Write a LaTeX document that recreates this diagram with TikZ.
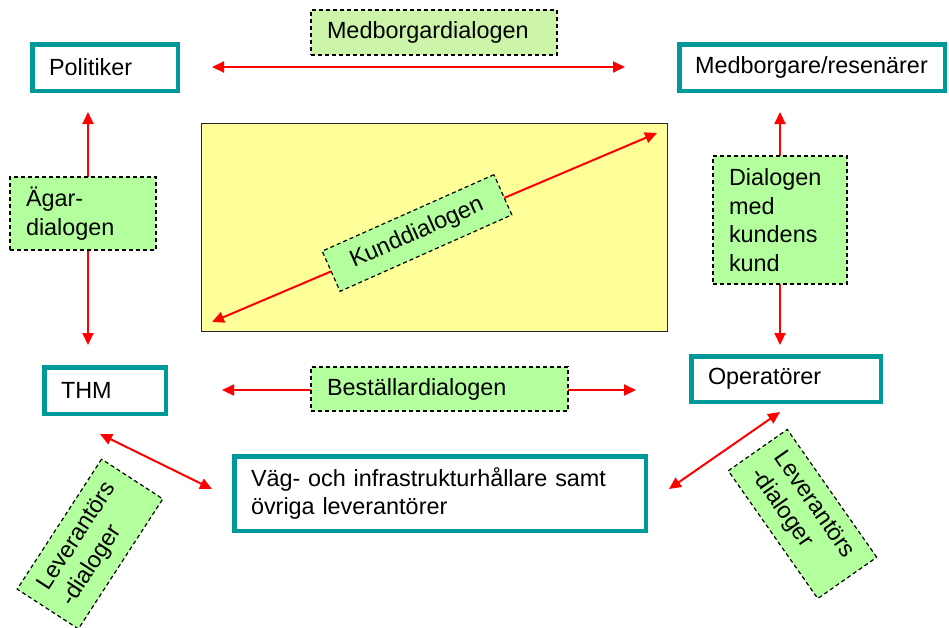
\documentclass[tikz,border=0pt]{standalone}
\usepackage{fontspec}
\setmainfont{Liberation Sans}
\usetikzlibrary{arrows.meta}
\definecolor{tealb}{HTML}{009999}
\definecolor{lgreen}{HTML}{B3FF9E}
\definecolor{pgreen}{HTML}{CCF5AA}
\definecolor{yelfill}{HTML}{FFFF99}
\begin{document}
\begin{tikzpicture}[x=1pt,y=-1pt,
  txt/.style={font=\fontsize{23.4}{28.5}\selectfont},
  entity/.style={txt, draw=tealb, line width=4.5pt, fill=white, inner sep=0pt, align=left},
  dlg/.style={txt, draw=black, dash pattern=on 4pt off 3pt, line width=1.2pt, fill=lgreen, inner sep=0pt, align=left},
  darr/.style={draw=red, line width=2pt, {Triangle[length=12pt,width=11pt]}-{Triangle[length=12pt,width=11pt]}}
]
\useasboundingbox (0,0) rectangle (949,627);

% central yellow area
\node[draw=black!85, line width=1.5pt, fill=yelfill, minimum width=466pt, minimum height=208pt, inner sep=0pt] (yel) at (434.5,227.5) {};

% entity boxes
\node[entity, minimum width=145.5pt, minimum height=46.5pt, text width=112pt] (pol) at (105,67.5) {Politiker};
\node[entity, minimum width=265.5pt, minimum height=46.5pt, text width=234pt] (med) at (812,67.5) {Medborgare/resenärer};
\node[entity, minimum width=121.5pt, minimum height=46.5pt, text width=88pt] (thm) at (105,390.5) {THM};
\node[entity, minimum width=189.5pt, minimum height=45.5pt, text width=156pt] (op) at (786,379) {Operatörer};
\node[entity, minimum width=411.5pt, minimum height=74.5pt, text width=378pt] (vag) at (440,493.5) {Väg- och infrastrukturhållare samt\\övriga leverantörer};

% arrow end points
\coordinate (tA) at (212,67);   \coordinate (tB) at (625,67);
\coordinate (lA) at (88,112);   \coordinate (lB) at (88,345);
\coordinate (rA) at (780,112);  \coordinate (rB) at (780,345);
\coordinate (bA) at (222,390);  \coordinate (bB) at (636,390);
\coordinate (kA) at (212,322);  \coordinate (kB) at (657,133);
\coordinate (sA) at (100,434);  \coordinate (sB) at (212,489);
\coordinate (eA) at (669,489);  \coordinate (eB) at (780,412);

\draw[darr] (tA) -- (tB);
\draw[darr] (lA) -- (lB);
\draw[darr] (rA) -- (rB);
\draw[darr] (bA) -- (bB);
\draw[darr] (kA) -- (kB);
\draw[darr] (sA) -- (sB);
\draw[darr] (eA) -- (eB);

% dialogue labels
\node[dlg, fill=pgreen, minimum width=246pt, minimum height=45pt, text width=214pt] (medd) at (434,32.5) {Medborgardialogen};
\node[dlg, minimum width=146pt, minimum height=73pt, text width=114pt] (ag) at (83,213.5) {Ägar-\\dialogen};
\node[dlg, minimum width=134pt, minimum height=128pt, text width=102pt] (dk) at (780,220) {Dialogen\\med\\kundens\\kund};
\node[dlg, minimum width=257pt, minimum height=44pt, text width=225pt] (best) at (439.5,389) {Beställardialogen};
\node[dlg, minimum width=188pt, minimum height=44pt, align=center, rotate=24] (kund) at (417,233) {Kunddialogen};
\node[dlg, minimum width=155pt, minimum height=73pt, text width=125pt, rotate=57] (lev1) at (90,544) {Leverantörs\\-dialoger};
\node[dlg, minimum width=156pt, minimum height=72pt, text width=125pt, rotate=-55] (lev2) at (802.5,514) {Leverantörs\\-dialoger};
\end{tikzpicture}
\end{document}
